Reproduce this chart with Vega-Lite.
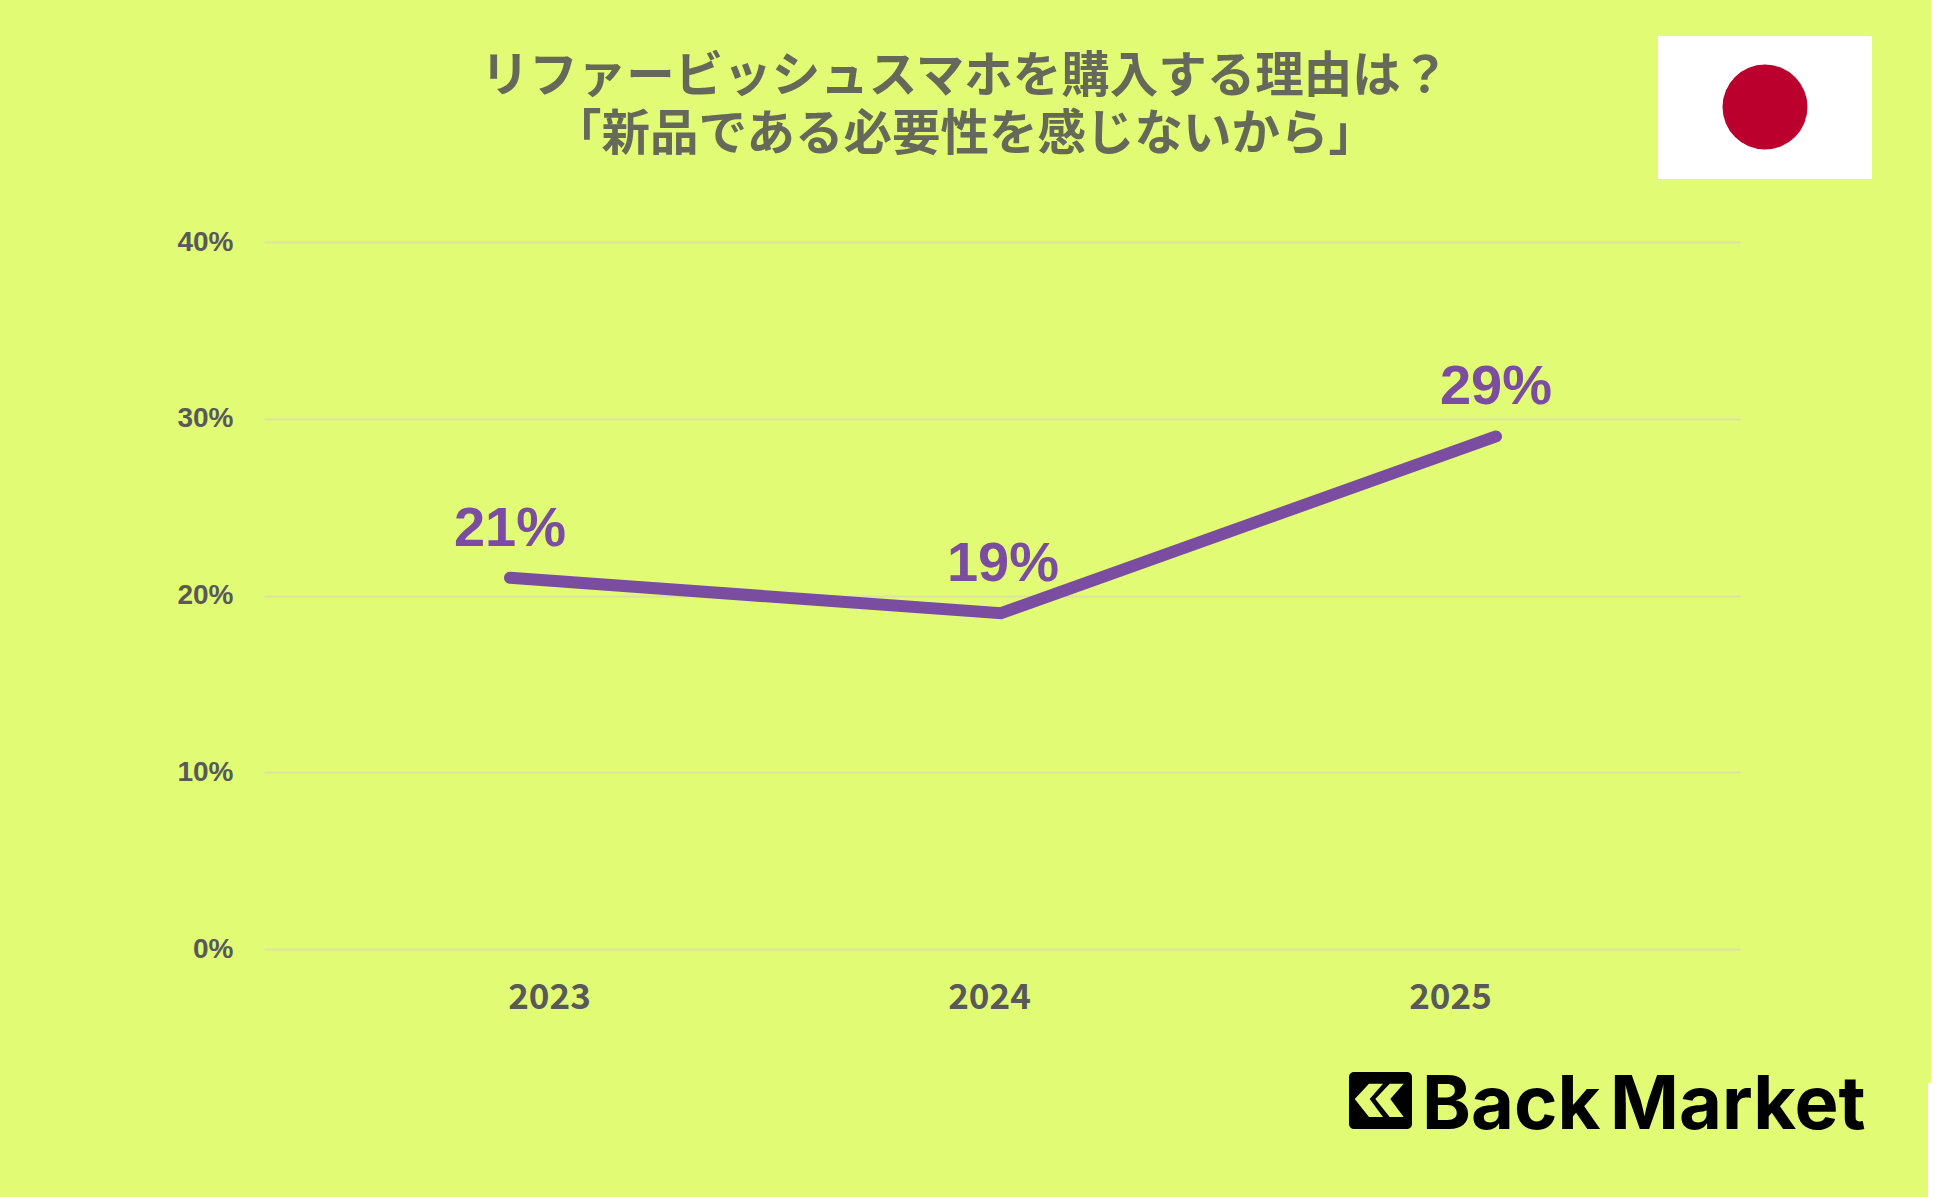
{"$schema":"https://vega.github.io/schema/vega-lite/v6.json","width":1476,"height":707,"autosize":"none","padding":{"left":264,"top":242,"right":210,"bottom":248},"background":"#E2FB75","data":{"values":[{"year":2023,"share":0.21},{"year":2024,"share":0.19},{"year":2025,"share":0.29}]},"config":{"view":{"stroke":null}},"resolve":{"scale":{"x":"independent"},"axis":{"x":"independent"}},"layer":[{"mark":{"type":"rule","opacity":0},"encoding":{"x":{"field":"year","type":"quantitative","title":null,"scale":{"domain":[2022,2023,2024,2025,2026],"range":[0,285,725,1186,1476],"zero":false,"nice":false},"axis":{"values":[2023,2024,2025],"format":"d","domain":false,"ticks":false,"grid":false,"labelFont":"Noto Sans CJK JP","labelFontWeight":"bold","labelFontSize":35,"labelColor":"#595959","labelPadding":31,"labelFlush":false,"labelOverlap":false}},"y":{"field":"share","type":"quantitative","title":null,"scale":{"domain":[0,0.4],"nice":false},"axis":{"values":[0,0.1,0.2,0.3,0.4],"format":".0%","domain":false,"ticks":false,"grid":true,"gridColor":"#DAE39F","gridWidth":2,"labelFont":"Liberation Sans","labelFontWeight":"bold","labelFontSize":28,"labelColor":"#595959","labelPadding":31}}}},{"mark":{"type":"line","color":"#7B4DA0","strokeWidth":12,"strokeCap":"round","strokeJoin":"miter"},"encoding":{"x":{"field":"year","type":"quantitative","axis":null,"scale":{"domain":[2023,2024,2025],"range":[246,737,1232],"zero":false,"nice":false}},"y":{"field":"share","type":"quantitative"}}},{"mark":{"type":"text","font":"Liberation Sans","fontWeight":"bold","fontSize":56,"color":"#7B4DA0","dy":-32,"baseline":"alphabetic","align":"center"},"encoding":{"x":{"field":"year","type":"quantitative","axis":null,"scale":{"domain":[2023,2024,2025],"range":[246,739,1232],"zero":false,"nice":false}},"y":{"field":"share","type":"quantitative"},"text":{"field":"share","type":"quantitative","format":".0%"}}},{"data":{"values":[{}]},"mark":{"type":"text","text":["リファービッシュスマホを購入する理由は？","「新品である必要性を感じないから」"],"font":"Noto Sans CJK JP","fontWeight":"bold","fontSize":48.5,"color":"#66695A","lineHeight":58,"align":"center","baseline":"alphabetic"},"encoding":{"x":{"value":701},"y":{"value":-150}}},{"data":{"values":[{}]},"mark":{"type":"rect","color":"#FFFFFF"},"encoding":{"x":{"value":1667},"x2":{"value":1686},"y":{"value":-242},"y2":{"value":841}}},{"data":{"values":[{}]},"mark":{"type":"rect","color":"#FFFFFF"},"encoding":{"x":{"value":1664},"x2":{"value":1686},"y":{"value":841},"y2":{"value":955}}},{"data":{"values":[{}]},"mark":{"type":"rect","color":"#FFFFFF"},"encoding":{"x":{"value":1394},"x2":{"value":1608},"y":{"value":-206},"y2":{"value":-63}}},{"data":{"values":[{}]},"mark":{"type":"point","filled":true,"shape":"circle","color":"#BC002D","opacity":1,"size":7225},"encoding":{"x":{"value":1501},"y":{"value":-135}}},{"data":{"values":[{}]},"mark":{"type":"rect","color":"#000000","cornerRadius":5},"encoding":{"x":{"value":1085},"x2":{"value":1148},"y":{"value":830},"y2":{"value":887}}},{"data":{"values":[{}]},"mark":{"type":"point","filled":true,"opacity":1,"color":"#E2FB75","size":4,"shape":"M-25.3 -1L-11 -16.3L3 -16.3L-10.3 -1L3 17L-11 17ZM-4.7 -1L9.7 -16.3L23.7 -16.3L10.3 -1L23.7 17L9.7 17Z"},"encoding":{"x":{"value":1116},"y":{"value":858}}},{"data":{"values":[{"t":"Back"}]},"mark":{"type":"text","font":"Inter","fontWeight":"bold","fontSize":74,"color":"#000000","align":"left","baseline":"alphabetic"},"encoding":{"x":{"value":1158},"y":{"value":887},"text":{"field":"t"}}},{"data":{"values":[{"t":"Market"}]},"mark":{"type":"text","font":"Inter","fontWeight":"bold","fontSize":74,"color":"#000000","align":"left","baseline":"alphabetic"},"encoding":{"x":{"value":1346},"y":{"value":887},"text":{"field":"t"}}}]}
